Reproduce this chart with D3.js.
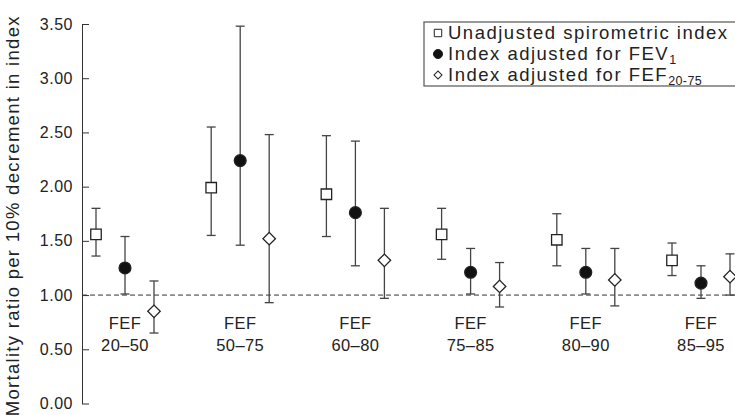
<!DOCTYPE html>
<html lang="en">
<head>
<meta charset="utf-8">
<title>Mortality ratio</title>
<script src="https://d3js.org/d3.v7.min.js"></script>
<style>
  body { margin: 0; background: #fff; }
  svg { display: block; font-family: "Liberation Sans", Arial, sans-serif; }
  .axis text { font-size: 16px; fill: #222; letter-spacing: 0.5px; }
  .axis path, .axis line { stroke: #333; }
</style>
</head>
<body>
<svg width="735" height="415"></svg>
<script>
// categories (FEF ranges)
var categories = ["20\u201350", "50\u201375", "60\u201380", "75\u201385", "80\u201390", "85\u201395"];

// unadjusted spirometric index
var unadj   = [1.56, 1.99, 1.93, 1.56, 1.51, 1.32];
var unadjLo = [1.36, 1.55, 1.54, 1.33, 1.27, 1.18];
var unadjHi = [1.80, 2.55, 2.47, 1.80, 1.75, 1.48];

// index adjusted for FEV1
var fev   = [1.25, 2.24, 1.76, 1.21, 1.21, 1.11];
var fevLo = [1.01, 1.46, 1.27, 1.01, 1.01, 0.97];
var fevHi = [1.54, 3.48, 2.42, 1.43, 1.43, 1.27];

// index adjusted for FEF20-75
var fef   = [0.85, 1.52, 1.32, 1.08, 1.14, 1.17];
var fefLo = [0.65, 0.93, 0.97, 0.89, 0.90, 1.00];
var fefHi = [1.13, 2.48, 1.80, 1.30, 1.43, 1.38];

var yTicks = [0, 0.5, 1, 1.5, 2, 2.5, 3, 3.5];

var svg = d3.select("svg");

var x = d3.scalePoint().domain(categories).range([125, 701]);
var off = d3.scalePoint().domain(["unadj", "fev", "fef"]).range([-29, 29]);
var y = d3.scaleLinear().domain([0, 3.5]).range([403.5, 24]);

// build rows
var series = [
  { key: "unadj", v: unadj, lo: unadjLo, hi: unadjHi },
  { key: "fev",   v: fev,   lo: fevLo,   hi: fevHi },
  { key: "fef",   v: fef,   lo: fefLo,   hi: fefHi }
];
var points = [];
series.forEach(function(s) {
  categories.forEach(function(c, i) {
    points.push({ key: s.key, cat: c, v: s.v[i], lo: s.lo[i], hi: s.hi[i] });
  });
});

// y axis
svg.append("g")
   .attr("class", "axis")
   .attr("transform", "translate(82,0)")
   .call(d3.axisLeft(y).tickValues(yTicks).tickFormat(d3.format(".2f"))
         .tickSizeInner(-7).tickSizeOuter(0).tickPadding(9));

svg.append("text")
   .attr("transform", "translate(19," + (y(1.75) + 2) + ") rotate(-90)")
   .attr("text-anchor", "middle")
   .attr("font-size", "18.5px")
   .attr("letter-spacing", "1.3px")
   .attr("fill", "#222")
   .text("Mortality ratio per 10% decrement in index");

// reference line at 1.00
svg.append("line")
   .attr("x1", 82).attr("x2", 735)
   .attr("y1", y(1)).attr("y2", y(1))
   .attr("stroke", "#333")
   .attr("stroke-dasharray", "5,3");

// category labels
var lab = svg.selectAll(".cat")
   .data(categories)
   .enter().append("g")
   .attr("class", "cat")
   .attr("transform", function(d) { return "translate(" + x(d) + ",0)"; });
lab.append("text").attr("y", 329).attr("text-anchor", "middle")
   .attr("font-size", "16.5px").attr("letter-spacing", "0.4px")
   .attr("fill", "#222").text("FEF");
lab.append("text").attr("y", 351).attr("text-anchor", "middle")
   .attr("font-size", "16.5px").attr("letter-spacing", "0.4px")
   .attr("fill", "#222").text(function(d) { return d; });

function px(d) { return x(d.cat) + off(d.key); }

// error bars
var eb = svg.selectAll(".eb")
   .data(points)
   .enter().append("g")
   .attr("class", "eb")
   .attr("stroke", "#444")
   .attr("stroke-width", 1.3);
eb.append("line")
   .attr("x1", px).attr("x2", px)
   .attr("y1", function(d) { return y(d.lo); })
   .attr("y2", function(d) { return y(d.hi); });
eb.append("line")
   .attr("x1", function(d) { return px(d) - 4.5; })
   .attr("x2", function(d) { return px(d) + 4.5; })
   .attr("y1", function(d) { return y(d.hi); })
   .attr("y2", function(d) { return y(d.hi); });
eb.append("line")
   .attr("x1", function(d) { return px(d) - 4.5; })
   .attr("x2", function(d) { return px(d) + 4.5; })
   .attr("y1", function(d) { return y(d.lo); })
   .attr("y2", function(d) { return y(d.lo); });

// markers (diamond = square turned 45 degrees)
var sym = {
  unadj: d3.symbol().type(d3.symbolSquare).size(110),
  fev:   d3.symbol().type(d3.symbolCircle).size(110),
  fef:   d3.symbol().type(d3.symbolSquare).size(78)
};
svg.selectAll(".pt")
   .data(points)
   .enter().append("path")
   .attr("class", "pt")
   .attr("d", function(d) { return sym[d.key](); })
   .attr("transform", function(d) {
      return "translate(" + px(d) + "," + y(d.v) + ")" + (d.key == "fef" ? " rotate(45)" : "");
   })
   .attr("fill", function(d) { return d.key == "fev" ? "#111" : "#fff"; })
   .attr("stroke", "#222")
   .attr("stroke-width", 1.3);

// legend
var lg = svg.append("g");
lg.append("rect")
   .attr("x", 424).attr("y", 22).attr("width", 320).attr("height", 64)
   .attr("fill", "#fff").attr("stroke", "#555").attr("stroke-width", 1.2);

var legSym = {
  unadj: d3.symbol().type(d3.symbolSquare).size(55),
  fev:   d3.symbol().type(d3.symbolCircle).size(65),
  fef:   d3.symbol().type(d3.symbolSquare).size(32)
};
var legRows = [
  { key: "unadj", y: 39, text: "Unadjusted spirometric index", sub: null },
  { key: "fev",   y: 60, text: "Index adjusted for FEV", sub: "1" },
  { key: "fef",   y: 81, text: "Index adjusted for FEF", sub: "20-75" }
];
legRows.forEach(function(r) {
  lg.append("path")
    .attr("d", legSym[r.key]())
    .attr("transform", "translate(438," + (r.y - 6) + ")" + (r.key == "fef" ? " rotate(45)" : ""))
    .attr("fill", r.key == "fev" ? "#111" : "#fff")
    .attr("stroke", "#222").attr("stroke-width", 1);
  var t = lg.append("text")
    .attr("x", 448).attr("y", r.y)
    .attr("font-size", "18.5px").attr("letter-spacing", "1.5px")
    .attr("fill", "#222");
  t.append("tspan").text(r.text);
  if (r.sub) {
    t.append("tspan").attr("dy", 4).attr("font-size", "12.5px").attr("letter-spacing", "0.4px").text(r.sub);
  }
});
</script>
</body>
</html>
